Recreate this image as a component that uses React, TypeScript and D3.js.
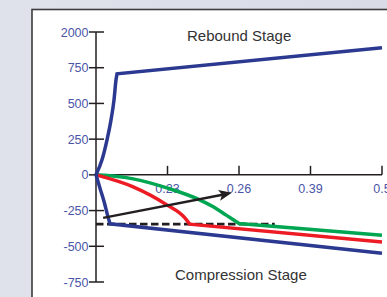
import React from "react";
import * as d3 from "d3";

// Data (x as index position along the categorical displacement axis)
const xTickLabels = ["0.23", "0.26", "0.39", "0.5"];
const xTickPositions = [1, 2, 3, 4];
const yTickValues = [-750, -500, -250, 0, 250, 500, 750, 1000];
const yTickLabels = ["-750", "-500", "-250", "0", "250", "500", "750", "2000"];

// Rebound (blue)
const reboundCurve: [number, number][] = [
  [0, 0], [0.084, 105], [0.154, 245], [0.21, 385], [0.252, 525], [0.28, 665], [0.294, 707],
];
const reboundEnd: [number, number] = [4, 890];

// Compression (blue)
const compBlueCurve: [number, number][] = [
  [0, 0], [0.06, -100], [0.12, -200], [0.16, -280], [0.196, -343],
];
const compBlueEnd: [number, number] = [4, -548];

// Red
const redCurve: [number, number][] = [
  [0, 0], [0.52, -84], [0.99, -210], [1.24, -300], [1.31, -345],
];
const redEnd: [number, number] = [4, -470];

// Green
const greenCurve: [number, number][] = [
  [0, 0], [0.52, -28], [0.99, -91], [1.45, -175], [1.64, -224], [1.82, -282], [2.0, -340],
];
const greenEnd: [number, number] = [4, -422];

// Dashed reference and arrow
const dashed: [number, number][] = [[0, -345], [2.5, -345]];
const arrow: [number, number][] = [[0.1, -301], [1.9, -126]];

const W = 387;
const H = 297;

export default function App() {
  const x = d3.scaleLinear().domain([0, 4]).range([96, 382]);
  const y = d3.scaleLinear().domain([-750, 1000]).range([282, 32]);

  const curveLine = d3
    .line<[number, number]>()
    .x((d) => x(d[0]))
    .y((d) => y(d[1]))
    .curve(d3.curveMonotoneX);
  const straight = d3
    .line<[number, number]>()
    .x((d) => x(d[0]))
    .y((d) => y(d[1]));

  const series = [
    { curve: greenCurve, end: greenEnd, color: "#00a651" },
    { curve: redCurve, end: redEnd, color: "#ed1c24" },
    { curve: compBlueCurve, end: compBlueEnd, color: "#2b3990" },
    { curve: reboundCurve, end: reboundEnd, color: "#2b3990" },
  ];

  const x0 = x(0);
  const yAxisTop = y(1000);
  const yAxisBottom = y(-750);
  const y0 = y(0);

  // arrow head geometry
  const ax1 = x(arrow[0][0]);
  const ay1 = y(arrow[0][1]);
  const ax2 = x(arrow[1][0]);
  const ay2 = y(arrow[1][1]);
  const ang = Math.atan2(ay2 - ay1, ax2 - ax1);
  const headLen = 13;
  const headW = 5.5;
  const bx = ax2 - headLen * Math.cos(ang);
  const by = ay2 - headLen * Math.sin(ang);
  const head = [
    [ax2, ay2],
    [bx + headW * Math.sin(ang), by - headW * Math.cos(ang)],
    [bx + 3 * Math.cos(ang), by + 3 * Math.sin(ang)],
    [bx - headW * Math.sin(ang), by + headW * Math.cos(ang)],
  ]
    .map((p) => p.join(","))
    .join(" ");

  const tickColor = "#4a55a8";
  const axisColor = "#231f20";

  return (
    <svg
      width={W}
      height={H}
      style={{ position: "absolute", left: 0, top: 0, display: "block" }}
      fontFamily="'Liberation Sans', Arial, Helvetica, sans-serif"
    >
      <defs>
        <linearGradient id="bg" x1="0" y1="0" x2="1" y2="0">
          <stop offset="0" stopColor="#dfe1eb" />
          <stop offset="1" stopColor="#d9dce7" />
        </linearGradient>
      </defs>
      <rect x={0} y={0} width={W} height={H} fill="url(#bg)" />
      <rect x={32} y={9.5} width={W} height={H} fill="#ffffff" stroke="#3c3c3c" strokeWidth={1.6} />

      {/* y axis */}
      <line x1={x0} x2={x0} y1={yAxisTop} y2={yAxisBottom} stroke={axisColor} strokeWidth={1.5} />
      {yTickValues.map((v, i) => (
        <g key={v}>
          <line x1={x0 - 7} x2={x0 + 8} y1={y(v)} y2={y(v)} stroke={axisColor} strokeWidth={1.5} />
          <text x={88.5} y={y(v) + 4.5} textAnchor="end" fontSize={12.5} fill={tickColor}>
            {yTickLabels[i]}
          </text>
        </g>
      ))}

      {/* x axis */}
      <line x1={x0} x2={x(4)} y1={y0} y2={y0} stroke={axisColor} strokeWidth={1.5} />
      {xTickPositions.map((p, i) => (
        <g key={p}>
          <line x1={x(p)} x2={x(p)} y1={y0 - 9} y2={y0} stroke={axisColor} strokeWidth={1.5} />
          <text x={x(p)} y={193} textAnchor="middle" fontSize={12.5} fill={tickColor}>
            {xTickLabels[i]}
          </text>
        </g>
      ))}

      {/* dashed reference */}
      <path
        d={straight(dashed) || ""}
        stroke={axisColor}
        strokeWidth={2.8}
        strokeDasharray="7.5 3.5"
        fill="none"
      />

      {/* series */}
      {series.map((s, i) => (
        <path
          key={i}
          d={(curveLine(s.curve) || "") + `L${x(s.end[0])},${y(s.end[1])}`}
          stroke={s.color}
          strokeWidth={3.5}
          fill="none"
          strokeLinejoin="miter"
        />
      ))}

      {/* arrow */}
      <line x1={ax1} y1={ay1} x2={bx + 3.5 * Math.cos(ang)} y2={by + 3.5 * Math.sin(ang)} stroke={axisColor} strokeWidth={2.5} />
      <polygon points={head} fill={axisColor} />

      {/* stage labels */}
      <text x={187} y={41} fontSize={15} fill="#333333">
        Rebound Stage
      </text>
      <text x={175} y={280} fontSize={15} fill="#333333">
        Compression Stage
      </text>
    </svg>
  );
}
